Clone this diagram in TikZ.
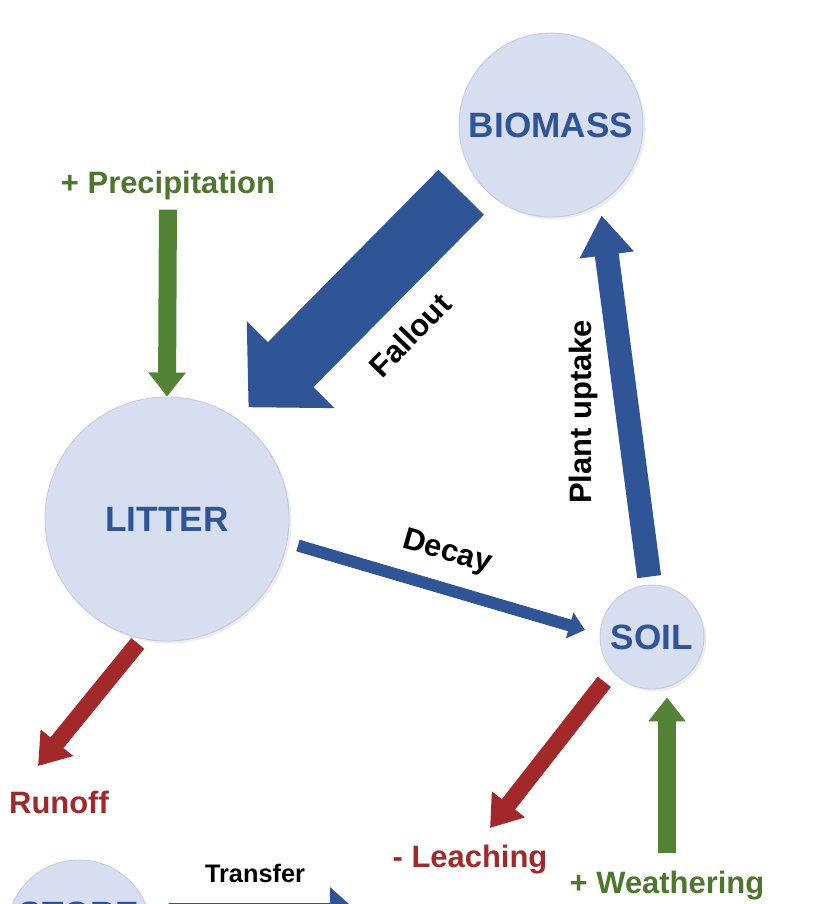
\documentclass[tikz,border=0pt]{standalone}
\usepackage{fontspec}
\setmainfont{Liberation Sans}
\usetikzlibrary{arrows.meta, shadows}

\definecolor{poolfill}{RGB}{214,222,239}
\definecolor{pooledge}{RGB}{192,203,226}
\definecolor{flowblue}{RGB}{47,85,151}
\definecolor{lossred}{RGB}{163,40,42}
\definecolor{gaingreen}{RGB}{84,130,53}
\definecolor{gaintext}{RGB}{78,118,44}

\tikzset{
  pool/.style={circle, fill=poolfill, draw=pooledge, line width=0.6pt, inner sep=0pt,
    text=flowblue, font=\bfseries\fontsize{25}{30}\selectfont,
    drop shadow={opacity=0.15, shadow xshift=0.6mm, shadow yshift=-0.6mm}},
  flowlabel/.style={inner sep=0pt, font=\bfseries\fontsize{22}{26}\selectfont},
  bigflow/.style={draw=flowblue, line width=1.6cm, -{Triangle[length=1.5cm, width=3cm]}},
  uptakeflow/.style={draw=flowblue, line width=0.6cm, -{Triangle[length=1cm, width=1.3cm]}},
  decayflow/.style={draw=flowblue, line width=0.3cm, -{Triangle[length=0.4cm, width=0.65cm]}},
  transferflow/.style={draw=flowblue, line width=0.45cm, -{Triangle[length=0.7cm, width=1.2cm]}},
  lossflow/.style={draw=lossred, line width=0.42cm, -{Triangle[length=0.75cm, width=1cm]}},
  gainflow/.style={draw=gaingreen, line width=0.45cm, -{Triangle[length=0.6cm, width=0.9cm]}}
}

\begin{document}
\begin{tikzpicture}[x=0.025cm, y=-0.025cm]
  \useasboundingbox (0,0) rectangle (840,904);
  \clip (0,0) rectangle (840,904);

  % Pools
  \node[pool, minimum size=4.6cm] (bio) at (551,125) {BIOMASS};
  \node[pool, minimum size=6.1cm] (lit) at (167,519) {LITTER};
  \node[pool, minimum size=2.6cm] (soil) at (652,637) {SOIL};
  \node[pool, minimum size=3.6cm] (store) at (79,932) {};
  \node[text=flowblue, inner sep=0pt, font=\bfseries\fontsize{25}{30}\selectfont] (storetxt) at (79,914) {STORE};

  % Labels
  \node[flowlabel, text=gaintext] (prec) at (168,185) {+ Precipitation};
  \node[flowlabel, text=lossred] (runoff) at (59,802) {Runoff};
  \node[flowlabel, text=lossred] (leach) at (470,860) {- Leaching};
  \node[flowlabel, text=gaintext] (weath) at (667,886) {+ Weathering};
  \node[flowlabel, rotate=46] (fallout) at (410,335) {Fallout};
  \node[flowlabel, rotate=90] (uptake) at (583,412) {Plant uptake};
  \node[flowlabel, rotate=-16] (decay) at (447,553) {Decay};
  \node[inner sep=0pt, font=\bfseries\fontsize{18}{22}\selectfont] (transfer) at (255,873) {Transfer};

  % Free ends
  \coordinate (runoff-tip) at (38,766);
  \coordinate (leach-tip) at (490,828);
  \coordinate (transfer-tip) at (358,912);

  % Flows between pools
  \draw[bigflow, shorten <=0.5cm, shorten >=0.4cm] (bio.215) -- (lit.55);
  \draw[uptakeflow, shorten <=0.2cm, shorten >=0.3cm] (soil.92) -- (bio.-58);
  \draw[decayflow, shorten <=0.28cm, shorten >=0.38cm] (lit.-11) -- (soil.177);
  \draw[transferflow, shorten <=0.5cm] (store.16) -- (transfer-tip);

  % Inputs and losses
  \draw[gainflow, shorten <=0.25cm] (prec.south) -- (lit.north);
  \draw[gainflow, shorten <=0.45cm, shorten >=0.2cm] (weath.north) -- (weath.north |- soil.south);
  \draw[lossflow, shorten <=0.15cm] (lit.-102) -- (runoff-tip);
  \draw[lossflow, shorten <=0.33cm] (soil.221) -- (leach-tip);
\end{tikzpicture}
\end{document}
